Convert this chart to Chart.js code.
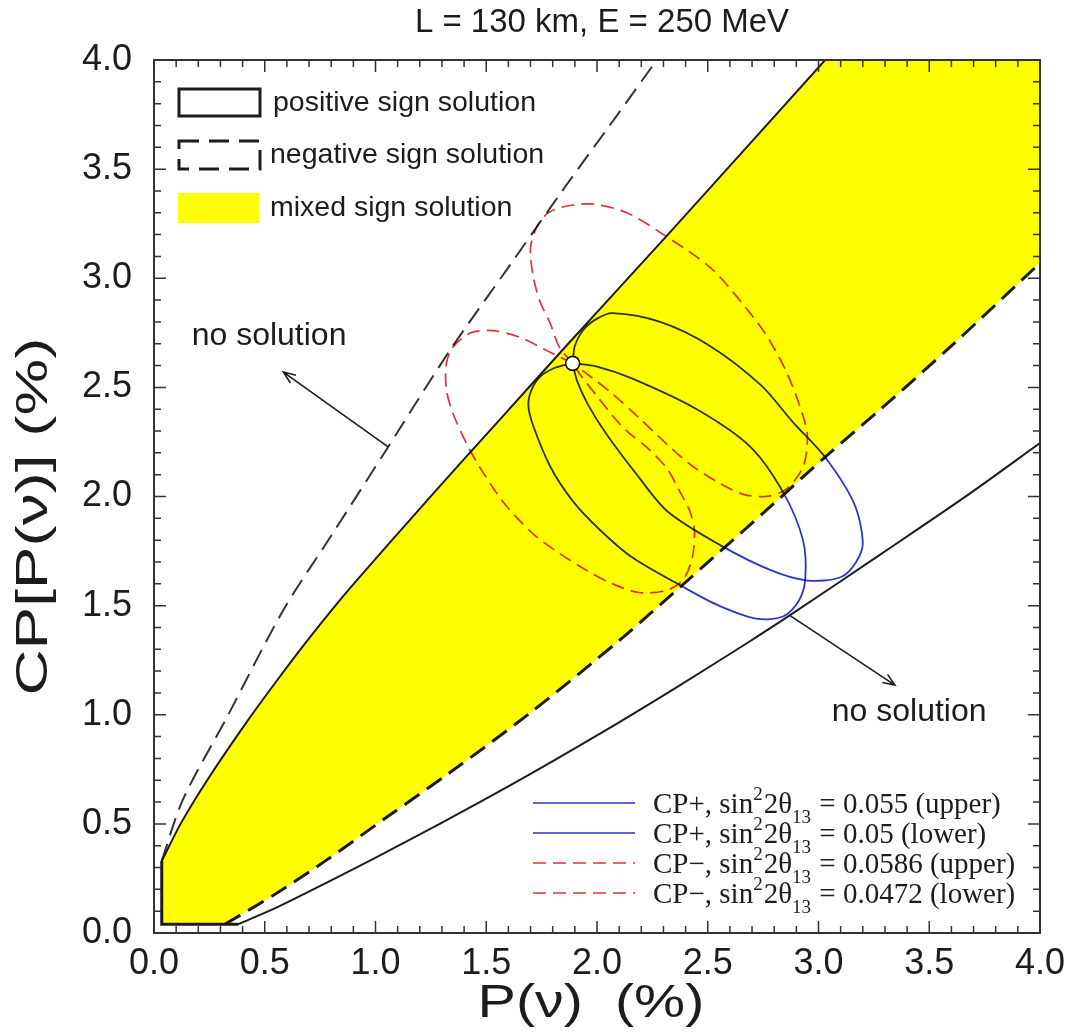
<!DOCTYPE html>
<html>
<head>
<meta charset="utf-8">
<script src="https://cdn.jsdelivr.net/npm/chart.js@4.4.1/dist/chart.umd.min.js"></script>
<style>
  html, body { margin: 0; padding: 0; background: #fff; }
</style>
</head>
<body>
<canvas id="chart" width="1075" height="1034"></canvas>
<script>
// values: P(nu) in %, CP[P(nu)] in %
// positive sign solution, upper edge
const posUpperP  = [0.035, 0.12, 0.24, 0.40, 0.55, 0.70, 0.885, 1.24, 1.55, 1.87, 2.32, 3.03];
const posUpperCP = [0.33, 0.50, 0.70, 0.94, 1.15, 1.35, 1.58, 1.99, 2.34, 2.70, 3.20, 4.00];
// positive sign solution, lower edge
const posLowerP  = [0.38, 0.55, 0.69, 0.99, 1.29, 1.65, 2.00, 2.35, 2.68, 2.87, 3.28, 3.65, 4.00];
const posLowerCP = [0.04, 0.115, 0.185, 0.34, 0.50, 0.70, 0.905, 1.12, 1.33, 1.455, 1.735, 1.99, 2.245];
// corner of both regions (left side and floor)
const cornerP  = [0.035, 0.035, 0.38];
const cornerCP = [0.33, 0.04, 0.04];
// negative sign solution, upper edge
const negUpperP  = [0.035, 0.13, 0.33, 0.584, 0.80, 1.057, 1.336, 1.60, 1.85, 2.05, 2.27];
const negUpperCP = [0.33, 0.61, 0.99, 1.48, 1.82, 2.227, 2.67, 3.05, 3.41, 3.69, 4.00];
// negative sign solution, lower edge
const negLowerP  = [0.32, 0.55, 0.78, 1.05, 1.336, 1.70, 2.10, 2.375, 2.795, 3.04, 3.28, 3.60, 4.00];
const negLowerCP = [0.04, 0.18, 0.335, 0.53, 0.735, 1.01, 1.34, 1.585, 1.965, 2.19, 2.40, 2.69, 3.07];

// CP+ ellipses
const cpPlusUpperP  = [1.89, 1.90, 1.94, 2.00, 2.07, 2.285, 2.51, 2.74, 2.885, 3.03, 3.16, 3.20, 3.17, 3.10, 2.95, 2.79, 2.56, 2.32, 2.18, 2.04, 1.96, 1.91, 1.89];
const cpPlusUpperCP = [2.61, 2.69, 2.765, 2.815, 2.84, 2.80, 2.69, 2.51, 2.34, 2.18, 1.97, 1.79, 1.70, 1.63, 1.615, 1.66, 1.775, 1.93, 2.10, 2.29, 2.42, 2.53, 2.61];
const cpPlusLowerP  = [1.89, 1.81, 1.745, 1.705, 1.69, 1.71, 1.79, 1.89, 2.01, 2.16, 2.39, 2.55, 2.72, 2.84, 2.91, 2.94, 2.93, 2.84, 2.69, 2.45, 2.16, 2.00, 1.89];
const cpPlusLowerCP = [2.61, 2.59, 2.55, 2.49, 2.42, 2.33, 2.135, 1.98, 1.85, 1.72, 1.585, 1.50, 1.44, 1.45, 1.52, 1.62, 1.80, 2.02, 2.23, 2.40, 2.54, 2.595, 2.61];
// CP- ellipses
const cpMinusUpperP  = [1.89, 1.83, 1.79, 1.74, 1.71, 1.70, 1.73, 1.78, 1.86, 1.98, 2.135, 2.285, 2.51, 2.66, 2.77, 2.86, 2.93, 2.95, 2.93, 2.85, 2.76, 2.66, 2.555, 2.43, 2.315, 2.19, 2.07, 1.97, 1.89];
const cpMinusUpperCP = [2.61, 2.685, 2.79, 2.90, 3.02, 3.14, 3.24, 3.30, 3.33, 3.34, 3.30, 3.21, 3.05, 2.88, 2.73, 2.56, 2.37, 2.27, 2.135, 2.03, 2.00, 2.01, 2.06, 2.14, 2.24, 2.36, 2.47, 2.55, 2.61];
const cpMinusLowerP  = [1.89, 1.83, 1.77, 1.65, 1.53, 1.43, 1.35, 1.32, 1.32, 1.35, 1.41, 1.47, 1.58, 1.71, 1.83, 1.955, 2.07, 2.19, 2.315, 2.39, 2.43, 2.44, 2.42, 2.375, 2.315, 2.225, 2.135, 2.07, 2.00, 1.93, 1.89];
const cpMinusLowerCP = [2.61, 2.64, 2.67, 2.73, 2.76, 2.75, 2.685, 2.61, 2.49, 2.38, 2.245, 2.135, 1.97, 1.83, 1.74, 1.66, 1.60, 1.56, 1.57, 1.62, 1.72, 1.84, 1.93, 2.02, 2.13, 2.225, 2.30, 2.37, 2.46, 2.55, 2.61];

// common point of the four ellipses
const commonP = [1.89];
const commonCP = [2.61];

// "no solution" notes: arrow tail, arrow head, text anchor
const noteText = ['no solution', 'no solution'];
const noteTailP = [1.057, 2.87], noteTailCP = [2.227, 1.455];
const noteHeadP = [0.584, 3.345], noteHeadCP = [2.57, 1.136];
const noteTextP = [0.17, 3.06], noteTextCP = [2.735, 1.01];

const tickLabels = ['0.0', '0.5', '1.0', '1.5', '2.0', '2.5', '3.0', '3.5', '4.0'];
const xTitle = 'P(ν)  (%)';
const yTitle = 'CP[P(ν)] (%)';

const pts = (P, CP) => P.map((p, i) => ({x: p, y: CP[i]}));

const SANS = '"Liberation Sans", Arial, sans-serif';
const SERIF = '"Liberation Serif", "Times New Roman", serif';
const BLUE = '#2a35cc';
const RED = '#e0323c';
const INK = '#1c1c1c';

// yellow band: edges chained, each run's ends doubled so the spline keeps its corners
const bandRuns = [
  [{x: cornerP[1], y: cornerCP[1]}, {x: cornerP[0], y: cornerCP[0]}],
  pts(posUpperP, posUpperCP),
  [{x: posUpperP[posUpperP.length - 1], y: 4}, {x: 4, y: 4}],
  [{x: 4, y: 4}, {x: 4, y: negLowerCP[negLowerCP.length - 1]}],
  pts(negLowerP, negLowerCP).reverse(),
  [{x: negLowerP[0], y: negLowerCP[0]}, {x: cornerP[1], y: cornerCP[1]}]
];
const mixedRegion = bandRuns.flatMap((run) => [run[0], ...run, run[run.length - 1]]);

function curve(data, color, width, dash, order, extra) {
  return Object.assign({
    data, showLine: true, borderColor: color, borderWidth: width,
    borderDash: dash || [], pointRadius: 0, tension: 0.3, fill: false, order
  }, extra || {});
}

const legendRows = [
  {color: BLUE, dash: [], parts: [['CP+, sin'], ['2', 'sup'], ['2θ'], ['13', 'sub'], [' = 0.055 (upper)']]},
  {color: BLUE, dash: [], parts: [['CP+, sin'], ['2', 'sup'], ['2θ'], ['13', 'sub'], [' = 0.05 (lower)']]},
  {color: RED, dash: [13, 7], parts: [['CP\u2212, sin'], ['2', 'sup'], ['2θ'], ['13', 'sub'], [' = 0.0586 (upper)']]},
  {color: RED, dash: [13, 7], parts: [['CP\u2212, sin'], ['2', 'sup'], ['2θ'], ['13', 'sub'], [' = 0.0472 (lower)']]}
];

// ellipses are laid over the yellow band like ink (multiply)
const multiplyPlugin = {
  id: 'multiply',
  beforeDatasetDraw(chart, args) {
    if (chart.data.datasets[args.index].multiply) {
      chart.ctx.save();
      chart.ctx.globalCompositeOperation = 'multiply';
    }
  },
  afterDatasetDraw(chart, args) {
    if (chart.data.datasets[args.index].multiply) chart.ctx.restore();
  }
};

function arrow(ctx, x1, y1, x2, y2) {
  const a = Math.atan2(y2 - y1, x2 - x1);
  ctx.beginPath();
  ctx.moveTo(x1, y1); ctx.lineTo(x2, y2);
  ctx.moveTo(x2 - 13 * Math.cos(a - 0.38), y2 - 13 * Math.sin(a - 0.38));
  ctx.lineTo(x2, y2);
  ctx.lineTo(x2 - 13 * Math.cos(a + 0.38), y2 - 13 * Math.sin(a + 0.38));
  ctx.stroke();
}

function richText(ctx, x, y, parts) {
  for (const [t, kind] of parts) {
    let dy = 0;
    if (kind) { ctx.font = '19px ' + SERIF; dy = kind === 'sup' ? -13 : 10; }
    else ctx.font = '29px ' + SERIF;
    ctx.fillText(t, x, y + dy);
    x += ctx.measureText(t).width + (kind ? 1 : 0);
  }
}

// axis titles of the original are set in a wide face: stretch along the text
function wideText(ctx, text, cx, cy, angle, stretch) {
  ctx.save();
  ctx.translate(cx, cy);
  ctx.rotate(angle);
  ctx.scale(stretch, 1);
  ctx.fillText(text, 0, 0);
  ctx.restore();
}

const decorPlugin = {
  id: 'decor',
  afterDraw(chart) {
    const {ctx, chartArea: a, scales: {x, y}} = chart;
    ctx.save();
    // frame and inward ticks on all four sides
    ctx.strokeStyle = '#333';
    ctx.lineWidth = 2;
    ctx.strokeRect(a.left, a.top, a.right - a.left, a.bottom - a.top);
    ctx.lineWidth = 1.5;
    ctx.beginPath();
    for (let i = 0; i <= 40; i++) {
      const len = i % 5 === 0 ? 12 : 7;
      const px = x.getPixelForValue(i / 10), py = y.getPixelForValue(i / 10);
      ctx.moveTo(px, a.bottom); ctx.lineTo(px, a.bottom - len);
      ctx.moveTo(px, a.top); ctx.lineTo(px, a.top + len);
      ctx.moveTo(a.left, py); ctx.lineTo(a.left + len, py);
      ctx.moveTo(a.right, py); ctx.lineTo(a.right - len, py);
    }
    ctx.stroke();

    // title and axis titles
    ctx.fillStyle = INK;
    ctx.font = '33px ' + SANS;
    ctx.textAlign = 'center';
    ctx.textBaseline = 'middle';
    ctx.fillText('L = 130 km, E = 250 MeV', (a.left + a.right) / 2 + 5, 23);
    ctx.font = '46px ' + SANS;
    wideText(ctx, xTitle, (a.left + a.right) / 2 - 6, a.bottom + 71, 0, 1.25);
    ctx.font = '44px ' + SANS;
    wideText(ctx, yTitle, 35, (a.top + a.bottom) / 2 + 20, -Math.PI / 2, 1.45);

    // notes with arrows
    ctx.textAlign = 'left';
    ctx.font = '32px ' + SANS;
    ctx.strokeStyle = INK;
    ctx.lineWidth = 1.6;
    noteText.forEach((t, i) => {
      ctx.fillText(t, x.getPixelForValue(noteTextP[i]), y.getPixelForValue(noteTextCP[i]));
      arrow(ctx, x.getPixelForValue(noteTailP[i]), y.getPixelForValue(noteTailCP[i]),
                 x.getPixelForValue(noteHeadP[i]), y.getPixelForValue(noteHeadCP[i]));
    });

    // upper-left legend
    const lx = a.left + 25, lw = 81;
    ctx.lineWidth = 3;
    ctx.strokeStyle = INK;
    ctx.strokeRect(lx, a.top + 29, lw, 27);
    ctx.setLineDash([20, 10]);
    ctx.strokeRect(lx, a.top + 81, lw, 28);
    ctx.setLineDash([]);
    ctx.fillStyle = '#ffff00';
    ctx.fillRect(lx - 1, a.top + 133, lw, 30);
    ctx.fillStyle = INK;
    ctx.font = '28.5px ' + SANS;
    ctx.fillText('positive sign solution', a.left + 119, a.top + 43);
    ctx.fillText('negative sign solution', a.left + 116, a.top + 95);
    ctx.fillText('mixed sign solution', a.left + 116, a.top + 148);

    // lower-right legend
    ctx.textBaseline = 'alphabetic';
    legendRows.forEach((row, i) => {
      const ly = a.bottom - 130 + i * 30;
      ctx.strokeStyle = row.color;
      ctx.lineWidth = 1.6;
      ctx.setLineDash(row.dash);
      ctx.beginPath(); ctx.moveTo(a.left + 379, ly); ctx.lineTo(a.left + 481, ly); ctx.stroke();
      ctx.setLineDash([]);
      ctx.fillStyle = INK;
      richText(ctx, a.left + 499, ly + 10, row.parts);
    });
    ctx.restore();
  }
};

new Chart(document.getElementById('chart'), {
  type: 'scatter',
  data: {
    datasets: [
      {data: pts(commonP, commonCP), pointRadius: 7, pointBackgroundColor: '#fff',
       pointBorderColor: '#111', pointBorderWidth: 1.6, order: 0},
      curve(pts(cpPlusUpperP, cpPlusUpperCP), BLUE, 1.8, null, 1, {multiply: true}),
      curve(pts(cpPlusLowerP, cpPlusLowerCP), BLUE, 1.8, null, 1, {multiply: true}),
      curve(pts(cpMinusUpperP, cpMinusUpperCP), RED, 1.7, [13, 7], 1, {multiply: true}),
      curve(pts(cpMinusLowerP, cpMinusLowerCP), RED, 1.7, [13, 7], 1, {multiply: true}),
      curve(pts(posUpperP, posUpperCP), INK, 2, null, 2),
      curve(pts(posLowerP, posLowerCP), INK, 2, null, 2),
      curve(pts(cornerP, cornerCP), INK, 3, null, 2, {tension: 0}),
      curve(pts(negUpperP, negUpperCP), '#333', 2, [18, 9], 2),
      curve(pts(negLowerP, negLowerCP), INK, 3, [18, 9], 2),
      {data: mixedRegion, showLine: true, borderWidth: 0, borderColor: 'rgba(0,0,0,0)',
       backgroundColor: '#ffff00', fill: 'shape', pointRadius: 0, tension: 0.3, order: 5}
    ]
  },
  options: {
    responsive: false,
    devicePixelRatio: 1,
    animation: false,
    events: [],
    layout: {padding: {top: 60, right: 35, left: 0, bottom: 0}},
    plugins: {legend: {display: false}, tooltip: {enabled: false}},
    scales: {
      x: {
        type: 'linear', position: 'bottom', min: 0, max: 4,
        grid: {display: false, drawTicks: false}, border: {display: false},
        ticks: {stepSize: 0.5, autoSkip: false, maxRotation: 0, padding: 9, color: INK,
                font: {family: SANS, size: 36}, callback: (v) => tickLabels[Math.round(v * 2)]},
        afterFit(s) { s.height = 101; }
      },
      y: {
        type: 'linear', position: 'left', min: 0, max: 4,
        grid: {display: false, drawTicks: false}, border: {display: false},
        ticks: {stepSize: 0.5, autoSkip: false, padding: 22, color: INK,
                font: {family: SANS, size: 36}, callback: (v) => tickLabels[Math.round(v * 2)]},
        afterFit(s) { s.width = 154; }
      }
    }
  },
  plugins: [multiplyPlugin, decorPlugin]
});
</script>
</body>
</html>
